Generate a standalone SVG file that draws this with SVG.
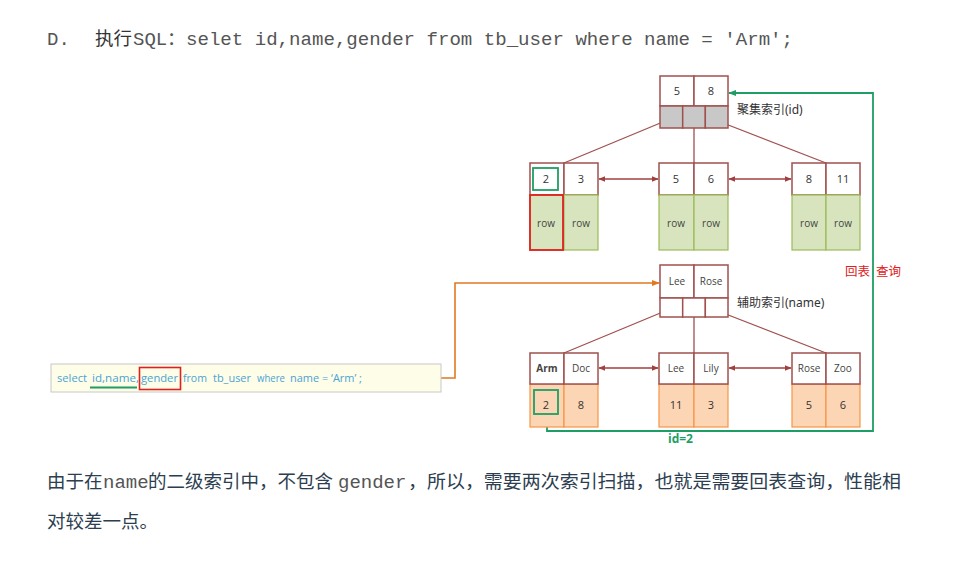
<svg xmlns="http://www.w3.org/2000/svg" width="956" height="566" viewBox="0 0 956 566">
<defs>
<style>
.k{fill:#fff;stroke:#a0504f;stroke-width:1.5}
.g{fill:#c8c8c8;stroke:#a0504f;stroke-width:1.5}
.rw{fill:#d7e4bd;stroke:#9bbb59;stroke-width:1.2}
.or{fill:#fcd5b5;stroke:#f79646;stroke-width:1.2}
.t{font-family:"Open Sans","Noto Sans",sans-serif;font-size:11px;fill:#333;text-anchor:middle}
.tn{font-family:"Open Sans","Noto Sans",sans-serif;font-size:10px;fill:#444;text-anchor:middle}
.lbl{font-family:"Noto Sans","Noto Sans CJK SC",sans-serif;font-size:12px;fill:#333}
.mono{font-family:"Liberation Mono",monospace;font-size:19px}
.cjk{font-family:"Noto Sans CJK SC","Noto Sans",sans-serif;font-size:18.5px}
.sql{font-family:"Open Sans","Noto Sans",sans-serif;font-size:11.5px;fill:#4ba3d6}
.tree{stroke:#a0504f;stroke-width:1.3;fill:none}
.lk{stroke:#a0403f;stroke-width:1.5;fill:none;marker-start:url(#ar);marker-end:url(#ar)}
</style>
<marker id="ar" viewBox="0 0 10 10" refX="9" refY="5" markerWidth="7" markerHeight="7" orient="auto-start-reverse" markerUnits="userSpaceOnUse"><path d="M0,1 L10,5 L0,9 z" fill="#a0403f"/></marker>
<marker id="ag" viewBox="0 0 10 10" refX="9" refY="5" markerWidth="8" markerHeight="8" orient="auto" markerUnits="userSpaceOnUse"><path d="M0,1 L10,5 L0,9 z" fill="#1e9e64"/></marker>
<marker id="ao" viewBox="0 0 10 10" refX="9" refY="5" markerWidth="8" markerHeight="8" orient="auto" markerUnits="userSpaceOnUse"><path d="M0,1 L10,5 L0,9 z" fill="#e07a20"/></marker>
</defs>
<rect width="956" height="566" fill="#fff"/>

<g id="header" fill="#555">
<text x="47" y="45" class="mono">D.</text>
<text x="95" y="45" class="cjk" fill="#333">执行</text>
<text x="133" y="45" class="mono">SQL</text>
<text x="167" y="45" class="cjk">：</text>
<text x="186" y="45" class="mono" textLength="607" lengthAdjust="spacingAndGlyphs">selet id,name,gender from tb_user where name = 'Arm';</text>
</g>

<g id="connectors">
<path class="tree" d="M670,119 L564,163 M694,119 L694,163 M718,121 L826,163"/>
<path class="tree" d="M670,309 L564,353 M694,309 L694,353 M718,311 L826,353"/>
<line class="lk" x1="599" y1="179" x2="658" y2="179"/>
<line class="lk" x1="729" y1="179" x2="791" y2="179"/>
<line class="lk" x1="599" y1="368" x2="658" y2="368"/>
<line class="lk" x1="729" y1="368" x2="791" y2="368"/>
<path d="M441,378 L455,378 L455,283 L659,283" fill="none" stroke="#e07a20" stroke-width="1.6" marker-end="url(#ao)"/>
<path d="M547,427 L547,431 L873,431 L873,93 L729,93" fill="none" stroke="#1e9e64" stroke-width="1.8" marker-end="url(#ag)"/>
</g>

<g id="root-clustered">
<rect class="k" x="660" y="76" width="34" height="30"/>
<rect class="k" x="694" y="76" width="34" height="30"/>
<rect class="g" x="660" y="106" width="22.7" height="22"/>
<rect class="g" x="682.7" y="106" width="22.7" height="22"/>
<rect class="g" x="705.3" y="106" width="22.7" height="22"/>
<text class="t" x="677" y="95">5</text>
<text class="t" x="711" y="95">8</text>
<text class="lbl" x="737" y="114">聚集索引(id)</text>
</g>

<g id="leaf-c1">
<rect class="k" x="530" y="163" width="34" height="32"/>
<rect class="k" x="564" y="163" width="34" height="32"/>
<rect class="rw" x="530" y="195" width="34" height="55"/>
<rect class="rw" x="564" y="195" width="34" height="55"/>
<rect x="533" y="168" width="25" height="22" fill="none" stroke="#1e9e64" stroke-width="1.8"/>
<rect x="530" y="195" width="33" height="55" fill="none" stroke="#e02020" stroke-width="1.8"/>
<text class="t" x="546" y="183">2</text>
<text class="t" x="581" y="183">3</text>
<text class="tn" x="546" y="227">row</text>
<text class="tn" x="581" y="227">row</text>
</g>

<g id="leaf-c2">
<rect class="k" x="659" y="163" width="35" height="32"/>
<rect class="k" x="694" y="163" width="34" height="32"/>
<rect class="rw" x="659" y="195" width="35" height="55"/>
<rect class="rw" x="694" y="195" width="34" height="55"/>
<text class="t" x="676" y="183">5</text>
<text class="t" x="711" y="183">6</text>
<text class="tn" x="676" y="227">row</text>
<text class="tn" x="711" y="227">row</text>
</g>

<g id="leaf-c3">
<rect class="k" x="792" y="163" width="34" height="32"/>
<rect class="k" x="826" y="163" width="34" height="32"/>
<rect class="rw" x="792" y="195" width="34" height="55"/>
<rect class="rw" x="826" y="195" width="34" height="55"/>
<text class="t" x="809" y="183">8</text>
<text class="t" x="843" y="183">11</text>
<text class="tn" x="809" y="227">row</text>
<text class="tn" x="843" y="227">row</text>
</g>

<g id="root-secondary">
<rect class="k" x="660" y="265" width="34" height="33"/>
<rect class="k" x="694" y="265" width="34" height="33"/>
<rect class="k" x="660" y="298" width="22.7" height="19"/>
<rect class="k" x="682.7" y="298" width="22.7" height="19"/>
<rect class="k" x="705.3" y="298" width="22.7" height="19"/>
<text class="tn" x="677" y="285">Lee</text>
<text class="tn" x="711" y="285">Rose</text>
<text class="lbl" x="737" y="307">辅助索引(name)</text>
</g>

<g id="leaf-s1">
<rect class="or" x="530" y="384" width="34" height="43"/>
<rect class="or" x="564" y="384" width="34" height="43"/>
<rect class="k" x="530" y="353" width="34" height="31"/>
<rect class="k" x="564" y="353" width="34" height="31"/>
<rect x="534" y="390" width="24" height="24" fill="none" stroke="#1e9e64" stroke-width="1.8"/>
<text class="tn" x="547" y="372" font-weight="bold" fill="#333">Arm</text>
<text class="tn" x="581" y="372">Doc</text>
<text class="t" x="546" y="409">2</text>
<text class="t" x="581" y="409">8</text>
</g>

<g id="leaf-s2">
<rect class="or" x="659" y="384" width="35" height="43"/>
<rect class="or" x="694" y="384" width="34" height="43"/>
<rect class="k" x="659" y="353" width="35" height="31"/>
<rect class="k" x="694" y="353" width="34" height="31"/>
<text class="tn" x="676" y="372">Lee</text>
<text class="tn" x="711" y="372">Lily</text>
<text class="t" x="676" y="409">11</text>
<text class="t" x="711" y="409">3</text>
</g>

<g id="leaf-s3">
<rect class="or" x="792" y="384" width="34" height="43"/>
<rect class="or" x="826" y="384" width="34" height="43"/>
<rect class="k" x="792" y="353" width="34" height="31"/>
<rect class="k" x="826" y="353" width="34" height="31"/>
<text class="tn" x="809" y="372">Rose</text>
<text class="tn" x="843" y="372">Zoo</text>
<text class="t" x="809" y="409">5</text>
<text class="t" x="843" y="409">6</text>
</g>

<g id="labels">
<text x="845" y="276" font-family="Noto Sans CJK SC,sans-serif" font-size="12.5" fill="#e02020">回表</text>
<text x="876" y="276" font-family="Noto Sans CJK SC,sans-serif" font-size="12.5" fill="#e02020">查询</text>
<text x="668" y="443" font-family="Open Sans,Noto Sans,sans-serif" font-size="12" font-weight="bold" fill="#1e9e64">id=2</text>
</g>

<g id="sql-box">
<rect x="51" y="364" width="390" height="28" fill="#fdfde8" stroke="#c8c8c8" stroke-width="1"/>
<text class="sql" x="57" y="382" textLength="30" lengthAdjust="spacingAndGlyphs">select</text>
<text class="sql" x="92" y="382" textLength="47" lengthAdjust="spacingAndGlyphs">id,name,</text>
<text class="sql" x="141" y="382" textLength="37" lengthAdjust="spacingAndGlyphs">gender</text>
<text class="sql" x="183" y="382" textLength="24" lengthAdjust="spacingAndGlyphs">from</text>
<text class="sql" x="213" y="382" textLength="38" lengthAdjust="spacingAndGlyphs">tb_user</text>
<text class="sql" x="257" y="382" textLength="28" lengthAdjust="spacingAndGlyphs">where</text>
<text class="sql" x="290" y="382" textLength="72" lengthAdjust="spacingAndGlyphs">name = ‘Arm’ ;</text>
<line x1="90" y1="387.5" x2="137" y2="387.5" stroke="#1e9e64" stroke-width="1.8"/>
<rect x="139.5" y="367.5" width="41" height="22" fill="none" stroke="#e02020" stroke-width="1.6"/>
</g>

<g id="footer" fill="#2c3e50">
<text y="488"><tspan x="47" class="cjk">由于在</tspan><tspan x="103" class="mono" fill="#555">name</tspan><tspan x="148" class="cjk">的二级索引中，不包含</tspan><tspan x="338" class="mono" fill="#555">gender</tspan><tspan x="408" class="cjk" textLength="493" lengthAdjust="spacingAndGlyphs">，所以，需要两次索引扫描，也就是需要回表查询，性能相</tspan></text>
<text x="47" y="528" class="cjk">对较差一点。</text>
</g>
</svg>
